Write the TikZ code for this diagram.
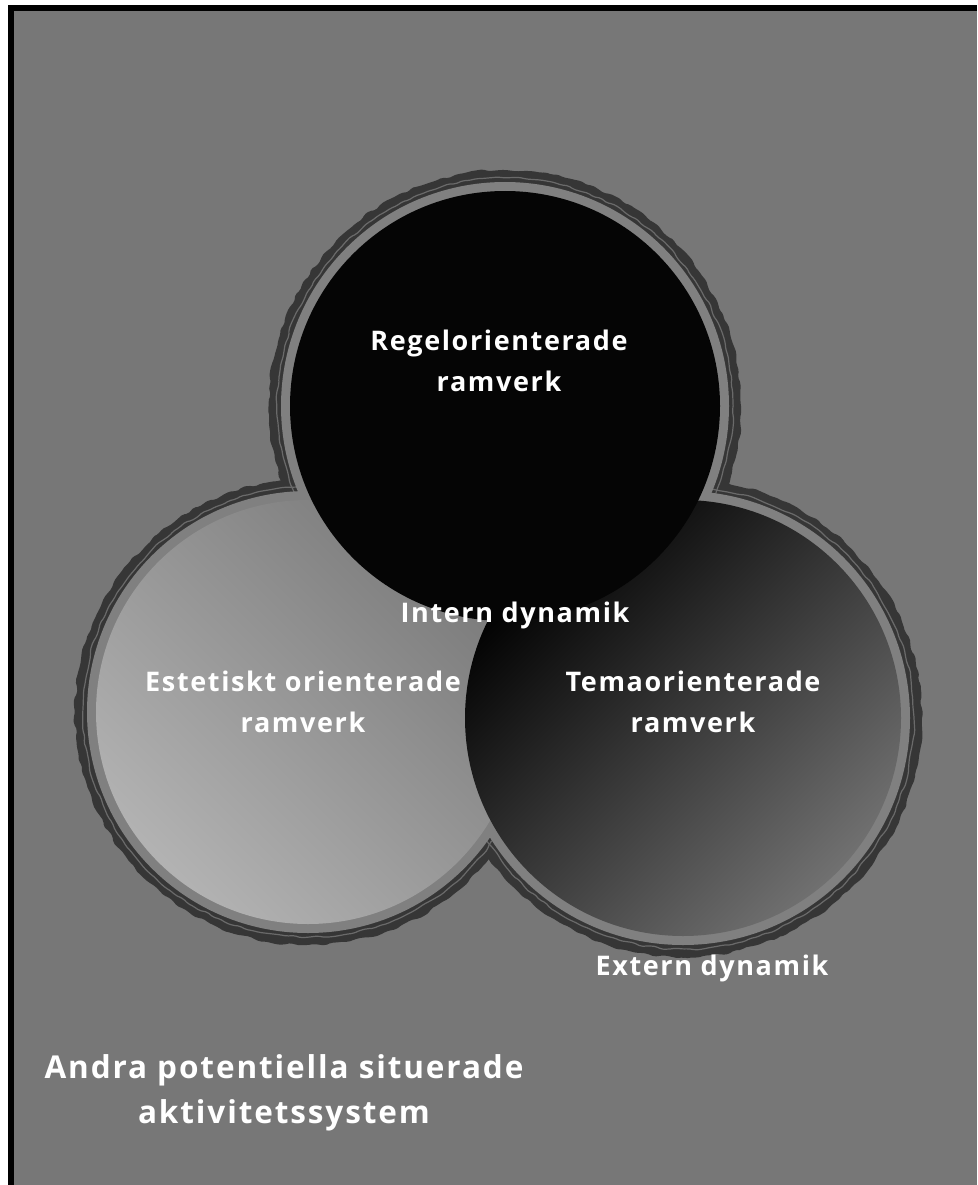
\documentclass[tikz,border=0pt]{standalone}
\usepackage{fontspec}
\setmainfont{Open Sans}[LetterSpace=6]
\usetikzlibrary{decorations.pathmorphing}
\definecolor{bggray}{HTML}{777777}
\definecolor{bandgray}{HTML}{808080}
\definecolor{rimdark}{HTML}{363636}
\definecolor{rimthin}{HTML}{6A6A6A}
\tikzset{
  rim/.style={fill=rimdark, decorate, decoration={random steps, segment length=6pt, amplitude=1.6pt}, rounded corners=2pt},
  rimline/.style={draw=rimthin, line width=1.2pt, decorate, decoration={random steps, segment length=7pt, amplitude=1.2pt}, rounded corners=2pt},
  band/.style={fill=bandgray},
  lbl/.style={text=white, font=\fontsize{27}{41}\selectfont\bfseries, align=center, inner sep=0pt},
  biglbl/.style={text=white, font=\fontsize{31.5}{45}\selectfont\bfseries, align=center, inner sep=0pt}
}
\begin{document}
\begin{tikzpicture}[x=1pt,y=-1pt]
\pgfmathsetseed{7}
\useasboundingbox (0,0) rectangle (977,1185);
\fill[white] (0,0) rectangle (977,1185);
\fill[black] (8,5) rectangle (977,1185);
\fill[bggray] (14,11) rectangle (977,1185);
% circle centres
\coordinate (ct) at (505,406);
\coordinate (cl) at (308,712);
\coordinate (cr) at (683,718);
% dark rims
\path[rim] (ct) circle[radius=236];
\path[rim] (cl) circle[radius=233];
\path[rim] (cr) circle[radius=239];
% thin light line inside rims
\path[rimline] (ct) circle[radius=228];
\path[rimline] (cl) circle[radius=225];
\path[rimline] (cr) circle[radius=231];
% light band
\path[band] (ct) circle[radius=224];
\path[band] (cl) circle[radius=221];
\path[band] (cr) circle[radius=227];
% fills
\shade[top color=black!52, bottom color=black!30, shading angle=-45] (cl) circle[radius=212];
\shade[top color=black, bottom color=black!56, shading angle=45] (cr) circle[radius=218];
\fill[black!98] (ct) circle[radius=215];
% labels
\node[lbl] (regel) at (499,361) {Regelorienterade\\ramverk};
\node[lbl] (intern) at (515,615) {Intern dynamik};
\node[lbl] (estet) at (303,702) {Estetiskt orienterade\\ramverk};
\node[lbl] (tema) at (693,702) {Temaorienterade\\ramverk};
\node[lbl] (extern) at (712,968) {Extern dynamik};
\node[biglbl] (andra) at (284,1093) {Andra potentiella situerade\\aktivitetssystem};
\end{tikzpicture}
\end{document}
